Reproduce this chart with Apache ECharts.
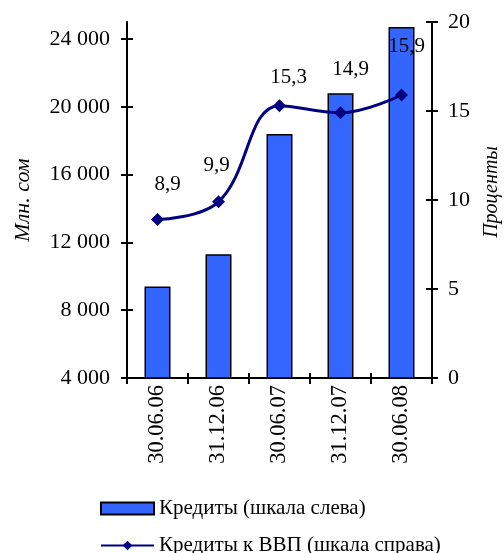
<!DOCTYPE html>
<html><head><meta charset="utf-8">
<script src="https://cdn.jsdelivr.net/npm/echarts@6/dist/echarts.min.js"></script>
<style>html,body{margin:0;padding:0;background:#fff}#c{width:504px;height:553px}</style>
</head><body><div id="c"></div>
<script>
const categories = ['30.06.06','31.12.06','30.06.07','31.12.07','30.06.08'];
const credits = [9400, 11300, 18400, 20800, 24700];
const creditsToGdp = [8.9, 9.9, 15.3, 14.9, 15.9];
const leftTicks = [4000, 8000, 12000, 16000, 20000, 24000];
const rightTicks = [0, 5, 10, 15, 20];
const seriesNames = ['Кредиты (шкала слева)', 'Кредиты к ВВП (шкала справа)'];

const FONT = 'Liberation Serif';
const labelOffsets = [[10,-18],[-2,-19],[9,-11],[10,-26],[5,-31]];
const chart = echarts.init(document.getElementById('c'));
const fmt = v => { const s = String(v); return s.length > 3 ? s.slice(0, s.length-3) + ' ' + s.slice(-3) : s; };
const axisLine = {show:true, onZero:false, lineStyle:{color:'#000', width:2}};
const tickStyle = {color:'#000', width:2};
const txt = (fs) => ({fontFamily:FONT, fontSize:fs, color:'#000'});
chart.setOption({
  animation:false,
  textStyle:{fontFamily:FONT},
  grid:{left:127, right:72, top:22, bottom:175, outerBoundsMode:'none', containLabel:false},
  legend:{
    orient:'vertical', left:100, top:498, width:400, height:80, padding:0, itemGap:16, itemWidth:53, itemHeight:12,
    textStyle:txt(21),
    data:[{name:seriesNames[0], icon:'rect'}, {name:seriesNames[1]}]
  },
  xAxis:[{
    type:'category', data:categories,
    axisLine:axisLine,
    axisTick:{show:true, length:6, lineStyle:tickStyle},
    axisLabel:Object.assign({rotate:90, margin:7}, txt(22.5))
  },{
    type:'category', data:categories, position:'bottom',
    axisLine:{show:false},
    axisTick:{show:true, inside:true, length:5, lineStyle:tickStyle},
    axisLabel:{show:false}
  }],
  yAxis:[{
    type:'value', min:4000, max:25000, position:'left',
    axisLine:axisLine,
    axisTick:{show:true, length:6, customValues:leftTicks, lineStyle:tickStyle},
    axisLabel:Object.assign({customValues:leftTicks, formatter:fmt, margin:17}, txt(22)),
    splitLine:{show:false},
    name:'Млн. сом', nameLocation:'middle', nameGap:93, nameRotate:90,
    nameTextStyle:Object.assign({fontStyle:'italic'}, txt(22))
  },{
    type:'value', min:0, max:20, interval:5, position:'right',
    axisLine:axisLine,
    axisTick:{show:true, length:6, lineStyle:tickStyle},
    axisLabel:Object.assign({customValues:rightTicks, margin:16}, txt(22)),
    splitLine:{show:false},
    name:'Проценты', nameLocation:'middle', nameGap:50, nameRotate:90,
    nameTextStyle:Object.assign({fontStyle:'italic', padding:[0,0,0,16]}, txt(20))
  },{
    type:'value', min:4000, max:25000, position:'left',
    axisLine:{show:false},
    axisTick:{show:true, inside:true, length:6, customValues:leftTicks, lineStyle:tickStyle},
    axisLabel:{show:false}, splitLine:{show:false}
  },{
    type:'value', min:0, max:20, interval:5, position:'right',
    axisLine:{show:false},
    axisTick:{show:true, inside:true, length:6, lineStyle:tickStyle},
    axisLabel:{show:false}, splitLine:{show:false}
  }],
  series:[{
    name:seriesNames[0], type:'bar', yAxisIndex:0, data:credits, barWidth:26,
    itemStyle:{color:'#3366FF', borderColor:'#000', borderWidth:1.5}
  },{
    name:seriesNames[1], type:'line', yAxisIndex:1, smooth:0.4,
    data:creditsToGdp.map((v,i)=>({value:v, label:{offset:labelOffsets[i]}})),
    symbol:'diamond', symbolSize:13,
    lineStyle:{color:'#000080', width:3}, itemStyle:{color:'#000080'},
    label:Object.assign({show:true, position:'top', distance:0,
      formatter:p=>String(p.value).replace('.', ',')}, txt(21))
  }]
});
</script></body></html>
